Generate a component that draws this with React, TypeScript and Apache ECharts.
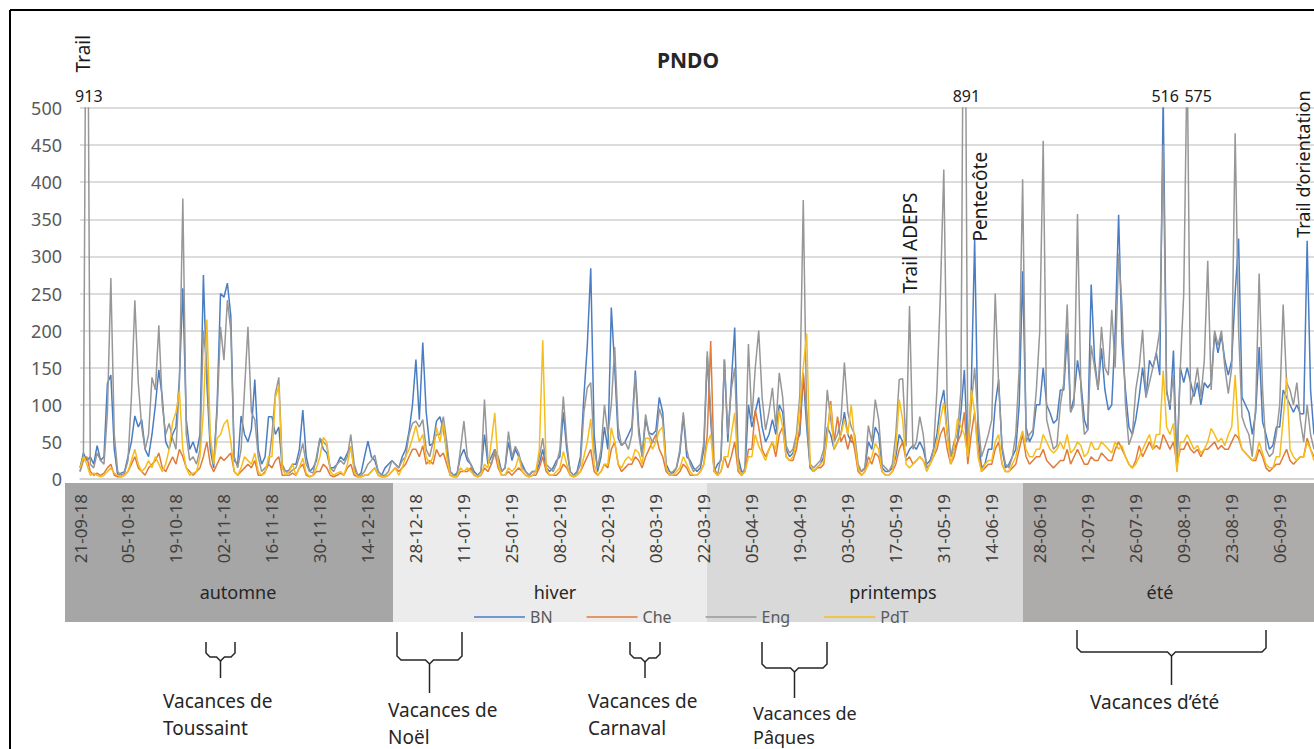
import React, { useEffect, useRef } from "react";
import * as echarts from "echarts";

// ---------------- DATA ----------------
// Daily visitor counts, 21-09-18 onward (one row = one week, Fri..Thu)
const seriesNames = ["BN", "Che", "Eng", "PdT"];

const BN = [
  15, 35, 25, 30, 20, 45, 25,
  30, 129, 140, 40, 5, 8, 10,
  30, 50, 85, 70, 80, 40, 30,
  60, 100, 147, 110, 50, 40, 60,
  70, 135, 257, 80, 40, 50, 35,
  60, 275, 130, 40, 15, 100, 250,
  245, 264, 220, 25, 20, 85, 60,
  50, 67, 134, 40, 20, 30, 84,
  84, 60, 70, 15, 10, 12, 20,
  20, 40, 93, 30, 10, 15, 25,
  55, 40, 35, 15, 15, 20, 30,
  25, 35, 44, 15, 5, 8, 30,
  51, 30, 25, 10, 5, 15, 20,
  25, 20, 15, 30, 40, 64, 100,
  161, 80, 184, 90, 45, 48, 78,
  84, 66, 40, 10, 5, 8, 30,
  40, 25, 20, 10, 5, 10, 60,
  20, 30, 40, 30, 10, 15, 50,
  25, 40, 30, 20, 10, 5, 10,
  10, 20, 40, 15, 10, 15, 25,
  30, 90, 40, 10, 5, 10, 30,
  111, 180, 284, 60, 10, 30, 70,
  40, 231, 150, 55, 45, 50, 60,
  70, 146, 70, 30, 80, 62, 60,
  65, 110, 90, 20, 10, 8, 15,
  35, 85, 30, 25, 15, 10, 15,
  40, 165, 80, 10, 20, 25, 161,
  50, 130, 204, 30, 10, 10, 100,
  70, 90, 110, 70, 50, 60, 80,
  60, 100, 90, 40, 30, 35, 50,
  60, 140, 70, 15, 10, 15, 20,
  30, 70, 60, 40, 50, 60, 90,
  60, 50, 50, 15, 10, 15, 50,
  40, 70, 60, 15, 10, 10, 15,
  30, 60, 50, 30, 40, 45, 40,
  50, 40, 20, 25, 40, 60, 100,
  120, 60, 30, 40, 50, 90, 147,
  30, 120, 322, 60, 15, 20, 40,
  40, 100, 134, 40, 15, 20, 30,
  40, 100, 280, 70, 50, 60, 100,
  100, 150, 100, 89, 75, 80, 120,
  120, 196, 90, 110, 160, 130, 80,
  66, 262, 160, 120, 176, 120, 93,
  100, 200, 356, 183, 120, 70, 60,
  80, 111, 150, 110, 160, 150, 170,
  140, 516, 120, 93, 173, 20, 150,
  130, 150, 130, 111, 130, 100, 130,
  123, 130, 195, 170, 194, 160, 140,
  160, 250, 324, 110, 100, 90, 60,
  90, 178, 77, 60, 40, 45, 70,
  70, 120, 110, 100, 90, 100, 88,
  88, 321, 120, 60,
];

const Che = [
  10, 25, 30, 10, 5, 8, 5,
  8, 15, 20, 5, 3, 3, 5,
  10, 20, 30, 15, 10, 5, 15,
  20, 25, 35, 15, 10, 20, 30,
  20, 40, 30, 15, 10, 5, 10,
  15, 30, 50, 20, 10, 20, 30,
  25, 30, 35, 10, 5, 10, 15,
  20, 15, 25, 5, 5, 10, 20,
  15, 25, 30, 5, 5, 5, 8,
  5, 15, 20, 5, 3, 5, 10,
  10, 20, 15, 5, 3, 5, 8,
  5, 15, 20, 5, 3, 3, 5,
  5, 10, 15, 5, 3, 3, 5,
  10, 15, 10, 15, 20, 30, 40,
  40, 30, 45, 20, 25, 20, 40,
  30, 35, 20, 5, 3, 3, 10,
  10, 10, 15, 5, 3, 5, 15,
  10, 20, 35, 15, 5, 5, 10,
  5, 10, 15, 10, 5, 3, 5,
  5, 15, 30, 10, 5, 5, 5,
  10, 20, 15, 5, 3, 5, 10,
  20, 30, 40, 10, 5, 10, 20,
  15, 40, 50, 20, 10, 15, 20,
  20, 30, 25, 15, 30, 40, 50,
  60, 40, 30, 10, 5, 5, 5,
  10, 20, 15, 5, 5, 5, 10,
  20, 60, 186, 15, 5, 10, 30,
  15, 30, 50, 10, 5, 10, 40,
  40, 93, 70, 40, 30, 40, 50,
  30, 60, 70, 30, 25, 25, 40,
  70, 143, 90, 20, 10, 15, 15,
  20, 60, 105, 50, 84, 50, 60,
  40, 60, 40, 10, 5, 10, 30,
  20, 35, 30, 10, 5, 5, 10,
  20, 40, 50, 25, 30, 20, 25,
  30, 25, 15, 20, 30, 40, 60,
  70, 40, 20, 30, 50, 60, 90,
  20, 60, 90, 40, 10, 15, 20,
  20, 40, 50, 20, 10, 10, 15,
  20, 40, 60, 30, 20, 25, 30,
  30, 40, 25, 20, 15, 20, 25,
  25, 40, 20, 30, 40, 30, 20,
  20, 30, 25, 25, 35, 30, 25,
  25, 40, 50, 40, 30, 20, 15,
  25, 45, 30, 40, 50, 40, 45,
  40, 60, 50, 40, 50, 20, 40,
  40, 50, 40, 35, 40, 30, 40,
  40, 45, 50, 40, 45, 40, 40,
  50, 60, 55, 40, 35, 30, 25,
  25, 40, 30, 15, 10, 15, 20,
  20, 30, 40, 25, 20, 25, 30,
  30, 55, 40, 30,
];

const Eng = [
  10, 30, 913, 20, 15, 35, 25,
  20, 90, 271, 60, 10, 5, 8,
  25, 110, 241, 130, 70, 40, 60,
  137, 120, 207, 100, 60, 75, 55,
  40, 130, 378, 60, 25, 30, 20,
  40, 200, 150, 50, 20, 90, 205,
  160, 241, 200, 30, 15, 40, 120,
  205, 90, 80, 30, 10, 15, 20,
  60, 115, 137, 20, 10, 8, 12,
  15, 30, 48, 20, 10, 8, 30,
  55, 50, 45, 15, 10, 20, 25,
  20, 30, 60, 20, 5, 5, 10,
  20, 25, 32, 10, 5, 5, 10,
  25, 20, 15, 25, 30, 60, 75,
  78, 70, 80, 40, 30, 50, 60,
  60, 84, 50, 10, 5, 5, 40,
  78, 30, 20, 5, 5, 10, 107,
  25, 20, 40, 25, 10, 15, 64,
  30, 44, 35, 15, 10, 5, 10,
  10, 30, 55, 20, 15, 10, 20,
  40, 111, 50, 10, 5, 8, 20,
  90, 123, 130, 40, 15, 40, 100,
  60, 100, 178, 70, 45, 50, 40,
  60, 140, 60, 30, 87, 60, 50,
  50, 95, 80, 15, 5, 10, 15,
  40, 90, 40, 20, 10, 15, 20,
  50, 172, 90, 10, 5, 30, 161,
  60, 120, 150, 20, 5, 15, 182,
  80, 150, 200, 110, 66, 90, 123,
  70, 143, 110, 45, 35, 40, 60,
  113, 376, 80, 20, 15, 20, 25,
  40, 120, 80, 50, 60, 80, 157,
  90, 70, 60, 20, 10, 15, 72,
  50, 107, 80, 20, 15, 10, 20,
  60, 134, 135, 44, 233, 40, 50,
  84, 60, 15, 20, 40, 120, 250,
  417, 100, 30, 50, 60, 120, 891,
  40, 100, 150, 80, 30, 44, 60,
  80, 250, 127, 44, 20, 15, 30,
  60, 150, 404, 50, 60, 66, 120,
  200, 456, 80, 60, 40, 45, 100,
  130, 235, 90, 100, 357, 120, 60,
  66, 180, 150, 120, 205, 150, 140,
  228, 150, 304, 232, 100, 46, 60,
  120, 150, 201, 110, 130, 150, 170,
  200, 450, 115, 100, 140, 10, 150,
  250, 575, 100, 120, 150, 110, 160,
  294, 120, 200, 180, 200, 150, 115,
  150, 466, 200, 84, 70, 60, 30,
  100, 277, 120, 40, 30, 35, 60,
  100, 235, 130, 120, 100, 130, 80,
  50, 100, 60, 40,
];

const PdT = [
  15, 30, 20, 5, 8, 5, 3,
  5, 10, 15, 8, 5, 3, 5,
  10, 25, 40, 20, 10, 15, 25,
  15, 30, 20, 10, 20, 40, 76,
  90, 118, 40, 15, 5, 8, 10,
  30, 90, 215, 60, 20, 55, 60,
  74, 80, 50, 10, 5, 15, 30,
  25, 20, 35, 10, 5, 8, 30,
  30, 110, 125, 15, 5, 10, 20,
  5, 15, 28, 8, 3, 5, 15,
  30, 56, 50, 10, 5, 8, 10,
  5, 20, 44, 10, 3, 3, 5,
  5, 10, 15, 5, 3, 3, 5,
  10, 15, 5, 15, 30, 40, 55,
  72, 50, 60, 30, 20, 30, 70,
  50, 75, 30, 5, 3, 3, 15,
  10, 15, 10, 5, 3, 5, 20,
  15, 50, 89, 20, 5, 5, 15,
  10, 15, 30, 10, 5, 3, 5,
  10, 40, 187, 15, 5, 5, 10,
  15, 37, 20, 5, 3, 5, 10,
  30, 50, 81, 20, 5, 10, 20,
  20, 69, 50, 20, 15, 25, 30,
  25, 40, 35, 20, 55, 55, 40,
  50, 65, 70, 15, 5, 5, 10,
  15, 30, 20, 10, 5, 5, 10,
  20, 48, 60, 10, 5, 10, 30,
  30, 60, 89, 15, 5, 10, 30,
  30, 60, 44, 35, 25, 40, 50,
  40, 93, 70, 30, 25, 30, 50,
  100, 150, 196, 20, 10, 15, 20,
  25, 60, 100, 40, 50, 60, 80,
  60, 100, 50, 15, 5, 10, 20,
  30, 48, 40, 10, 5, 5, 10,
  40, 107, 80, 20, 15, 20, 25,
  30, 25, 10, 20, 30, 50, 80,
  103, 60, 20, 40, 81, 70, 60,
  30, 120, 90, 30, 10, 20, 25,
  25, 50, 60, 20, 10, 10, 20,
  30, 50, 65, 40, 30, 30, 40,
  40, 60, 50, 40, 35, 40, 50,
  40, 60, 35, 40, 50, 45, 30,
  35, 50, 40, 40, 50, 45, 40,
  35, 50, 40, 45, 30, 20, 15,
  20, 30, 40, 50, 60, 40, 60,
  60, 146, 70, 60, 75, 10, 50,
  50, 60, 50, 40, 45, 35, 40,
  50, 68, 60, 50, 55, 45, 60,
  70, 140, 60, 40, 35, 30, 25,
  30, 50, 35, 20, 15, 15, 30,
  30, 80, 136, 40, 30, 25, 30,
  30, 50, 40, 25,
];

const seriesData = [BN, Che, Eng, PdT];
const seriesColors = ["#4a7dc2", "#e07b39", "#979797", "#f6bd1c"];

const startDate = [2018, 8, 21]; // 21-09-18 (month is 0-based)
const dayCount = 361;
const yTicks = [0, 50, 100, 150, 200, 250, 300, 350, 400, 450, 500];

const seasons = ["automne", "hiver", "printemps", "été"];
const events = ["Trail", "Trail ADEPS", "Pentecôte", "Trail d’orientation"];
const eventDays = [2, 242, 261, 358];
const vacationTexts = [
  ["Vacances de", "Toussaint"],
  ["Vacances de", "Noël"],
  ["Vacances de", "Carnaval"],
  ["Vacances de", "Pâques"],
  ["Vacances d’été"],
];

// ---------------- LAYOUT ----------------
const FONT = "'Noto Sans', 'Open Sans', sans-serif";
const W = 1314;
const H = 749;
const GRID = { left: 80, right: 0, top: 108, bottom: 270 };
const BAND_TOP = 483;
const BAND_BOTTOM = 622;
const seasonBands = [
  { x0: 65, x1: 393, fill: "#a6a6a6", cx: 238 },
  { x0: 393, x1: 707, fill: "#ececec", cx: 555 },
  { x0: 707, x1: 1023, fill: "#d9d9d9", cx: 893 },
  { x0: 1023, x1: 1314, fill: "#aeabab", cx: 1160 },
];
const eventLayout = [
  { yVal: 548, dx: -4, size: 19 },
  { yVal: 250, dx: 0, size: 19 },
  { yVal: 320, dx: 5, size: 19 },
  { yVal: 325, dx: -4, size: 18 },
];
const overflowDx: Record<string, number> = { "Eng-323": 9 };
const braces = [
  { x1: 206, x2: 235, top: 642, mid: 657, stem: 678, tx: 163, ty: 701, gap: 27, size: 19 },
  { x1: 397, x2: 462, top: 632, mid: 660, stem: 693, tx: 388, ty: 710, gap: 27, size: 19 },
  { x1: 630, x2: 660, top: 642, mid: 658, stem: 678, tx: 588, ty: 701, gap: 27, size: 19 },
  { x1: 762, x2: 827, top: 642, mid: 668, stem: 698, tx: 753, ty: 713, gap: 24, size: 18 },
  { x1: 1077, x2: 1266, top: 630, mid: 652, stem: 685, tx: 1090, ty: 702, gap: 27, size: 19 },
];

function buildDates(): string[] {
  const out: string[] = [];
  for (let i = 0; i < dayCount; i++) {
    const d = new Date(Date.UTC(startDate[0], startDate[1], startDate[2] + i));
    const dd = String(d.getUTCDate()).padStart(2, "0");
    const mm = String(d.getUTCMonth() + 1).padStart(2, "0");
    const yy = String(d.getUTCFullYear() % 100).padStart(2, "0");
    out.push(`${dd}-${mm}-${yy}`);
  }
  return out;
}

export default function App() {
  const ref = useRef<HTMLDivElement>(null);
  useEffect(() => {
    document.body.style.margin = "0";
    const chart = echarts.init(ref.current!, null, { renderer: "svg" });
    const dates = buildDates();
    const yMax = yTicks[yTicks.length - 1];
    chart.setOption({
      animation: false,
      backgroundColor: "#ffffff",
      textStyle: { fontFamily: FONT },
      title: {
        text: "PNDO",
        left: 652,
        top: 44,
        textStyle: { fontFamily: FONT, fontSize: 21, fontWeight: "bold", color: "#262626" },
      },
      legend: {
        data: seriesNames,
        left: 469,
        top: 604,
        icon: "rect",
        itemWidth: 51,
        itemHeight: 1.6,
        itemGap: 34,
        textStyle: { fontFamily: FONT, fontSize: 16, color: "#595959" },
      },
      grid: { ...GRID },
      xAxis: {
        type: "category",
        data: dates,
        boundaryGap: false,
        axisTick: { show: false },
        axisLine: { lineStyle: { color: "#d0d0d0", width: 1.5 } },
        axisLabel: {
          interval: 13,
          rotate: 90,
          fontSize: 17,
          color: "#404040",
          margin: 15,
          fontFamily: FONT,
        },
        splitLine: { show: false },
      },
      yAxis: {
        type: "value",
        min: yTicks[0],
        max: yMax,
        interval: yTicks[1] - yTicks[0],
        axisLine: { show: false },
        axisTick: { show: false },
        axisLabel: { fontSize: 18, color: "#595959", margin: 18, fontFamily: FONT },
        splitLine: { lineStyle: { color: "#d0d0d0", width: 1.5 } },
      },
      series: seriesNames.map((name, k) => ({
        name,
        type: "line",
        data: seriesData[k],
        showSymbol: false,
        symbol: "none",
        clip: true,
        color: seriesColors[k],
        lineStyle: { width: 1.5, color: seriesColors[k] },
      })),
    });

    const px = (day: number, val: number) =>
      chart.convertToPixel({ gridIndex: 0 }, [day, val]) as number[];

    const g: any[] = [];
    // outer frame
    g.push({ type: "line", z: 100, shape: { x1: 10, y1: 10, x2: 10, y2: H }, style: { stroke: "#000", lineWidth: 2 } });
    g.push({ type: "line", z: 100, shape: { x1: 10, y1: 10, x2: W, y2: 10 }, style: { stroke: "#000", lineWidth: 2 } });
    // season bands
    seasonBands.forEach((b, i) => {
      g.push({
        type: "rect",
        z: -10,
        shape: { x: b.x0, y: BAND_TOP, width: b.x1 - b.x0, height: BAND_BOTTOM - BAND_TOP },
        style: { fill: b.fill },
      });
      g.push({
        type: "text",
        z: 50,
        x: b.cx,
        y: 592,
        style: { text: seasons[i], font: `18px ${FONT}`, fill: "#262626", align: "center", verticalAlign: "middle" },
      });
    });
    // overflow labels (values beyond the axis maximum)
    seriesData.forEach((arr, k) => {
      arr.forEach((v, i) => {
        if (v > yMax) {
          const p = px(i, yMax);
          const dx = overflowDx[`${seriesNames[k]}-${i}`] || 0;
          g.push({
            type: "text",
            z: 50,
            x: p[0] + 2 + dx,
            y: p[1] - 12,
            style: { text: String(v), font: `16px ${FONT}`, fill: "#1a1a1a", align: "center", verticalAlign: "middle" },
          });
        }
      });
    });
    // event annotations (rotated)
    events.forEach((t, i) => {
      const p = px(eventDays[i], eventLayout[i].yVal);
      g.push({
        type: "text",
        z: 50,
        x: p[0] + eventLayout[i].dx,
        y: p[1],
        rotation: Math.PI / 2,
        style: { text: t, font: `${eventLayout[i].size}px ${FONT}`, fill: "#1a1a1a", align: "left", verticalAlign: "middle" },
      });
    });
    // vacation braces
    braces.forEach((b, i) => {
      const xc = (b.x1 + b.x2) / 2;
      const r = 4;
      g.push({
        type: "polyline",
        z: 50,
        shape: {
          points: [
            [b.x1, b.top], [b.x1, b.mid - r], [b.x1 + r, b.mid], [xc - r, b.mid], [xc, b.mid + r],
            [xc + r, b.mid], [b.x2 - r, b.mid], [b.x2, b.mid - r], [b.x2, b.top],
          ],
        },
        style: { stroke: "#262626", lineWidth: 1.5, fill: null },
      });
      g.push({
        type: "line",
        z: 50,
        shape: { x1: xc, y1: b.mid + r, x2: xc, y2: b.stem },
        style: { stroke: "#262626", lineWidth: 1.5 },
      });
      vacationTexts[i].forEach((line, j) => {
        g.push({
          type: "text",
          z: 50,
          x: b.tx,
          y: b.ty + j * b.gap,
          style: { text: line, font: `${b.size}px ${FONT}`, fill: "#262626", align: "left", verticalAlign: "middle" },
        });
      });
    });
    chart.setOption({ graphic: g });
    return () => chart.dispose();
  }, []);
  return <div ref={ref} style={{ width: W, height: H }} />;
}
